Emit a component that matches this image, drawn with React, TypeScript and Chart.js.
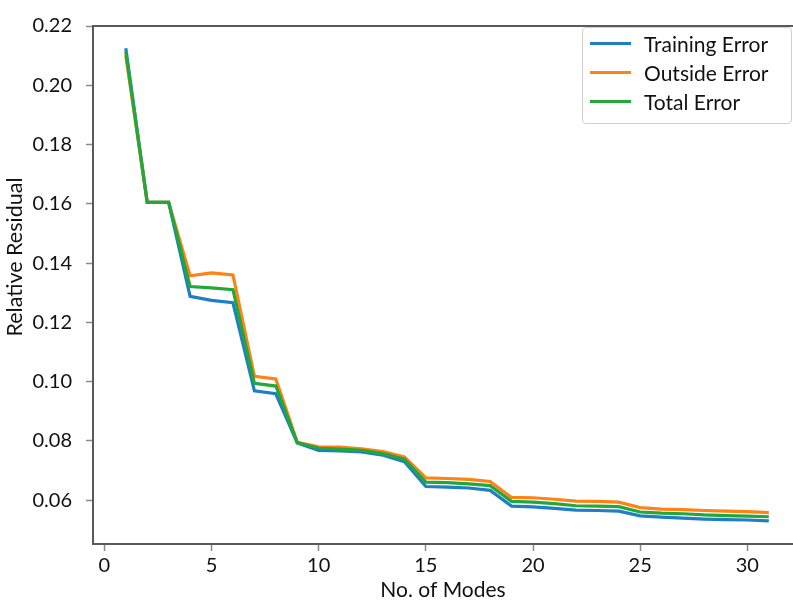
import React, { useEffect, useRef } from "react";
import { Chart, registerables } from "chart.js";

Chart.register(...registerables);

const MODES = [1, 2, 3, 4, 5, 6, 7, 8, 9, 10, 11, 12, 13, 14, 15, 16, 17, 18, 19, 20, 21, 22, 23, 24, 25, 26, 27, 28, 29, 30, 31];

const TRAINING_ERROR = [0.2125, 0.1605, 0.1605, 0.1288, 0.1274, 0.1266, 0.0969, 0.0959, 0.0793, 0.0768, 0.0766, 0.0763, 0.0752, 0.0730, 0.0646, 0.0644, 0.0641, 0.0633, 0.0580, 0.0577, 0.0572, 0.0566, 0.0565, 0.0563, 0.0547, 0.0543, 0.0539, 0.0536, 0.0534, 0.0533, 0.0530];

const OUTSIDE_ERROR = [0.2100, 0.1605, 0.1605, 0.1357, 0.1367, 0.1360, 0.1018, 0.1009, 0.0795, 0.0780, 0.0779, 0.0773, 0.0764, 0.0746, 0.0675, 0.0673, 0.0670, 0.0663, 0.0609, 0.0608, 0.0603, 0.0597, 0.0596, 0.0593, 0.0575, 0.0570, 0.0568, 0.0565, 0.0563, 0.0561, 0.0558];

const TOTAL_ERROR = [0.2112, 0.1605, 0.1605, 0.1321, 0.1316, 0.1310, 0.0994, 0.0985, 0.0794, 0.0775, 0.0772, 0.0768, 0.0757, 0.0738, 0.0661, 0.0659, 0.0655, 0.0649, 0.0596, 0.0593, 0.0588, 0.0581, 0.0580, 0.0578, 0.0560, 0.0556, 0.0554, 0.0550, 0.0548, 0.0546, 0.0544];

const SERIES_LABELS = ["Training Error", "Outside Error", "Total Error"];
const SERIES_COLORS = ["#1f7ec6", "#ff8214", "#22a83a"];

const X_TICKS = [0, 5, 10, 15, 20, 25, 30];
const Y_TICKS = [0.06, 0.08, 0.10, 0.12, 0.14, 0.16, 0.18, 0.20, 0.22];

const X_TITLE = "No. of Modes";
const Y_TITLE = "Relative Residual";

const X_MIN = -0.53;
const X_MAX = 32.13;
const Y_MIN = 0.0452;
const Y_MAX = 0.22;

const FONT = "Lato, 'Open Sans', sans-serif";
const AXIS_COLOR = "#5a5a5a";
const TICK_COLOR = "#8a8a8a";

// Draws the y-axis title slightly above the axis centre, as in the reference.
const yTitlePlugin = {
  id: "yTitleOffset",
  afterDraw(chart: any) {
    const { ctx, chartArea } = chart;
    const cy = chartArea.top + (chartArea.bottom - chartArea.top) * 0.446;
    ctx.save();
    ctx.translate(15.5, cy);
    ctx.rotate(-Math.PI / 2);
    ctx.font = `21.5px ${FONT}`;
    ctx.fillStyle = "#111";
    ctx.textAlign = "center";
    ctx.textBaseline = "middle";
    ctx.fillText(Y_TITLE, 0, 0);
    ctx.restore();
  },
};

export default function App() {
  const canvasRef = useRef<HTMLCanvasElement | null>(null);

  useEffect(() => {
    const canvas = canvasRef.current;
    if (!canvas) return;
    const seriesValues = [TRAINING_ERROR, OUTSIDE_ERROR, TOTAL_ERROR];
    const datasets = seriesValues.map((vals, i) => ({
      label: SERIES_LABELS[i],
      data: MODES.map((m, j) => ({ x: m, y: vals[j] })),
      borderColor: SERIES_COLORS[i],
      backgroundColor: SERIES_COLORS[i],
      borderWidth: 3.2,
      pointRadius: 0,
      tension: 0,
      fill: false,
      order: 2 - i,
      xAxisID: "x",
      yAxisID: "y",
    }));

    const chart = new Chart(canvas, {
      type: "line",
      data: { datasets },
      plugins: [yTitlePlugin],
      options: {
        animation: false,
        responsive: false,
        maintainAspectRatio: false,
        layout: { padding: { top: 17, left: 0, right: 0, bottom: 0 } },
        plugins: {
          legend: { display: false },
          tooltip: { enabled: false },
        },
        scales: {
          x: {
            type: "linear",
            position: "bottom",
            min: X_MIN,
            max: X_MAX,
            afterBuildTicks: (scale: any) => {
              scale.ticks = X_TICKS.map((v) => ({ value: v }));
            },
            afterFit: (scale: any) => {
              scale.height = 56;
            },
            grid: {
              drawOnChartArea: false,
              drawTicks: true,
              tickLength: 7,
              tickWidth: 1.5,
              tickColor: TICK_COLOR,
            },
            border: { display: true, color: AXIS_COLOR, width: 2 },
            ticks: {
              autoSkip: false,
              maxRotation: 0,
              padding: 3,
              color: "#111",
              font: { family: FONT, size: 20 },
              callback: (v: any) => String(v),
            },
            title: {
              display: true,
              text: X_TITLE,
              color: "#111",
              font: { family: FONT, size: 21 },
              padding: { top: 0, bottom: -3 },
            },
          },
          xTop: {
            type: "linear",
            position: "top",
            min: X_MIN,
            max: X_MAX,
            grid: { drawOnChartArea: false, drawTicks: false },
            border: { display: true, color: AXIS_COLOR, width: 2 },
            ticks: { display: false },
          },
          y: {
            type: "linear",
            position: "left",
            min: Y_MIN,
            max: Y_MAX,
            afterBuildTicks: (scale: any) => {
              scale.ticks = Y_TICKS.map((v) => ({ value: v }));
            },
            afterFit: (scale: any) => {
              scale.width = 93;
            },
            grid: {
              drawOnChartArea: false,
              drawTicks: true,
              tickLength: 7,
              tickWidth: 1.5,
              tickColor: TICK_COLOR,
            },
            border: { display: true, color: AXIS_COLOR, width: 2 },
            ticks: {
              autoSkip: false,
              padding: 14,
              color: "#111",
              font: { family: FONT, size: 20 },
              callback: (v: any) => Number(v).toFixed(2),
            },
            title: { display: false, text: Y_TITLE },
          },
        },
      },
    });

    return () => {
      chart.destroy();
    };
  }, []);

  return (
    <div style={{ position: "fixed", left: 0, top: 0, width: 793, height: 600, background: "#fff" }}>
      <canvas ref={canvasRef} width={793} height={600} style={{ display: "block", width: 793, height: 600 }} />
      <div
        style={{
          position: "absolute",
          left: 582,
          top: 27,
          width: 208,
          height: 94,
          border: "1px solid #d0d0d0",
          borderRadius: 4,
          background: "rgba(255,255,255,0.9)",
          paddingTop: 1,
          boxSizing: "content-box",
          fontFamily: FONT,
          fontSize: 21,
          color: "#111",
        }}
      >
        {SERIES_LABELS.map((label, i) => (
          <div key={label} style={{ height: 29, display: "flex", alignItems: "center" }}>
            <span
              style={{
                display: "inline-block",
                marginLeft: 7,
                width: 41,
                height: 3,
                background: SERIES_COLORS[i],
              }}
            />
            <span style={{ marginLeft: 13, lineHeight: "29px" }}>{label}</span>
          </div>
        ))}
      </div>
    </div>
  );
}
